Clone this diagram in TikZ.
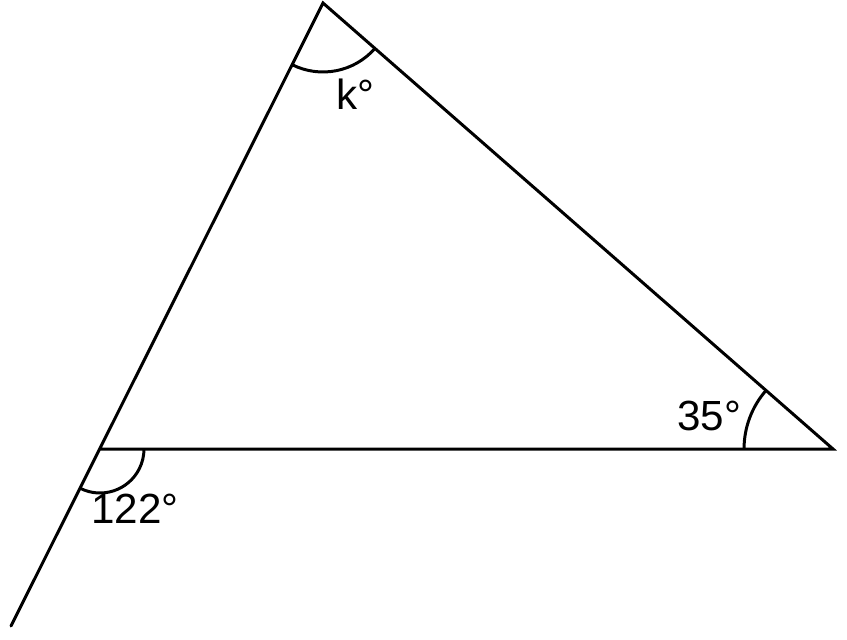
\documentclass[tikz,border=0pt]{standalone}
\usepackage{fontspec}
\setmainfont{Liberation Sans}
\usetikzlibrary{angles,quotes}

\tikzset{
  side/.style={line width=1.7pt, line cap=round, line join=miter},
  anglemark/.style={draw, line width=1.7pt},
  anglelabel/.style={font=\fontsize{24}{28}\selectfont, inner sep=0pt}
}

\begin{document}
\begin{tikzpicture}[x=0.02cm, y=-0.02cm]
  \useasboundingbox (0,0) rectangle (847,639);

  % vertices
  \coordinate (top) at (323,3);
  \coordinate (left) at (100,449);
  \coordinate (right) at (833,449);
  \coordinate (ext) at (11,626);

  % sides
  \draw[side] (ext) -- (top) -- (right) -- (left);

  % angle arcs
  \pic[anglemark, angle radius=1.38cm] {angle = left--top--right};
  \pic[anglemark, angle radius=1.78cm] {angle = top--right--left};
  \pic[anglemark, angle radius=0.88cm] {angle = ext--left--right};

  % labels
  \node[anglelabel] (ktop) at (355,94) {k°};
  \node[anglelabel] (aright) at (709,416) {35°};
  \node[anglelabel] (aleft) at (135,509) {122°};
\end{tikzpicture}
\end{document}
